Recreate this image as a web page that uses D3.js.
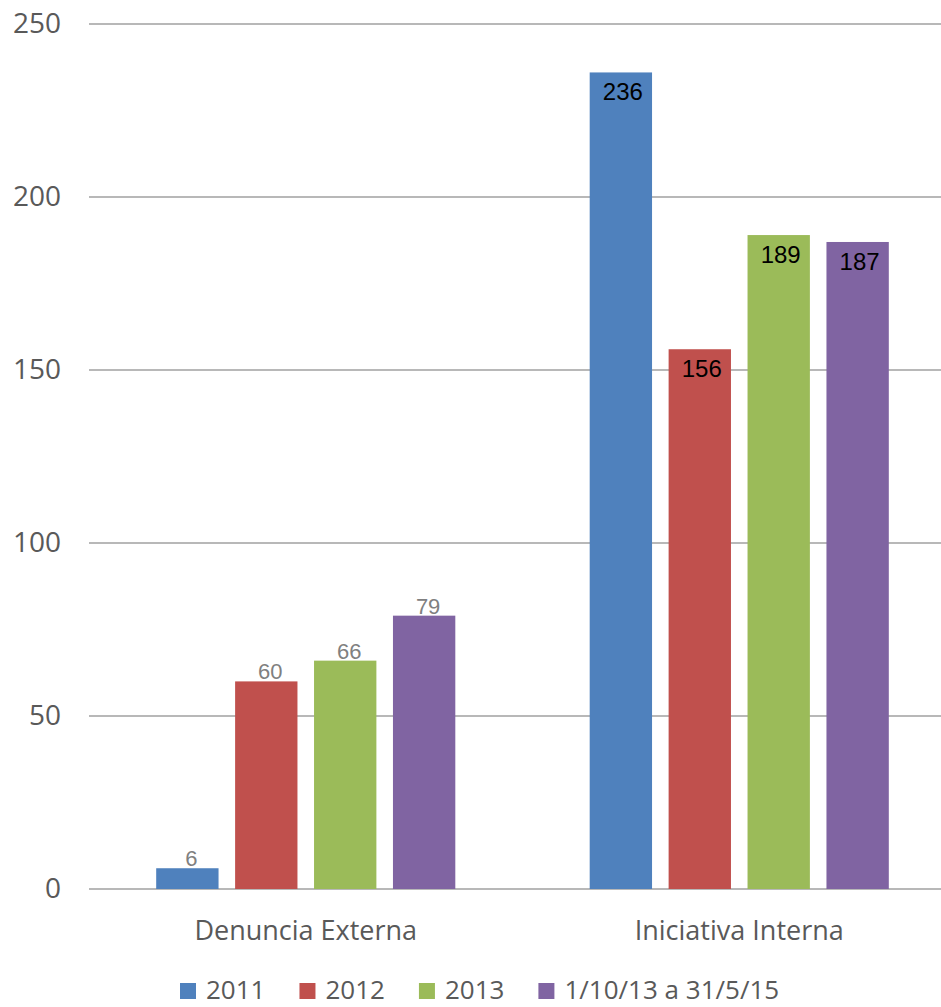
<!DOCTYPE html>
<html>
<head>
<meta charset="utf-8">
<script src="https://cdn.jsdelivr.net/npm/d3@7"></script>
<style>
  body { margin: 0; background: #fff; }
  svg { display: block; }
</style>
</head>
<body>
<div id="chart"></div>
<script>
const categories = ['Denuncia Externa', 'Iniciativa Interna']
const series = ['2011', '2012', '2013', '1/10/13 a 31/5/15']
const colors = ['#4F81BD', '#C0504D', '#9BBB59', '#8064A2']
// values per series, in category order
const v2011 = [6, 236]
const v2012 = [60, 156]
const v2013 = [66, 189]
const vPeriod = [79, 187]
const yTicks = [0, 50, 100, 150, 200, 250]

const values = [v2011, v2012, v2013, vPeriod]

const width = 941, height = 1007
const margin = { top: 24, left: 89, bottom: 118 }
const plotBottom = height - margin.bottom

const svg = d3.select('#chart').append('svg')
  .attr('width', width)
  .attr('height', height)

const y = d3.scaleLinear()
  .domain([0, 250])
  .range([plotBottom, margin.top])

const x0 = d3.scaleBand()
  .domain(categories)
  .range([margin.left, 956])
  .paddingInner(0.31)
  .paddingOuter(0.155)

const x1 = d3.scaleBand()
  .domain(series)
  .range([0, x0.bandwidth()])
  .paddingInner(0.21)
  .paddingOuter(0)

// gridlines
svg.append('g')
  .selectAll('line')
  .data(yTicks)
  .join('line')
  .attr('x1', margin.left)
  .attr('x2', width)
  .attr('y1', d => y(d))
  .attr('y2', d => y(d))
  .attr('stroke', '#b8b8b8')
  .attr('stroke-width', 2)

// y axis labels
const yAxis = svg.append('g')
  .attr('transform', `translate(61,0)`)
  .call(d3.axisLeft(y).tickValues(yTicks).tickSize(0).tickPadding(0))
yAxis.select('.domain').remove()
yAxis.selectAll('text')
  .attr('font-family', '"Open Sans", sans-serif')
  .attr('font-size', 28)
  .attr('fill', '#595959')

// bars
const groups = svg.append('g')
  .selectAll('g')
  .data(categories)
  .join('g')
  .attr('transform', d => `translate(${x0(d)},0)`)

const cells = groups.selectAll('g')
  .data((c, ci) => series.map((s, si) => ({ s, si, ci, v: values[si][ci] })))
  .join('g')

cells.append('rect')
  .attr('x', d => x1(d.s))
  .attr('width', x1.bandwidth())
  .attr('y', d => y(d.v))
  .attr('height', d => y(0) - y(d.v))
  .attr('fill', d => colors[d.si])

cells.append('text')
  .attr('x', d => x1(d.s) + x1.bandwidth() / 2 + (d.ci === 0 ? 4 : 2))
  .attr('y', d => d.ci === 0 ? y(d.v) - 2 : y(d.v) + 28)
  .attr('text-anchor', 'middle')
  .attr('font-family', '"Liberation Sans", Arial, sans-serif')
  .attr('font-size', d => d.ci === 0 ? 22 : 24)
  .attr('fill', d => d.ci === 0 ? '#808080' : '#000')
  .text(d => d.v)

// category labels
svg.append('g')
  .selectAll('text')
  .data(categories)
  .join('text')
  .attr('x', d => x0(d) + x0.bandwidth() / 2)
  .attr('y', 940)
  .attr('text-anchor', 'middle')
  .attr('font-family', '"Open Sans", sans-serif')
  .attr('font-size', 27)
  .attr('fill', '#595959')
  .text(d => d)

// legend
const legend = svg.append('g').attr('transform', 'translate(180,999)')
let lx = 0
series.forEach((s, i) => {
  const item = legend.append('g').attr('transform', `translate(${lx},0)`)
  item.append('rect')
    .attr('x', 0).attr('y', -16)
    .attr('width', 16).attr('height', 16)
    .attr('fill', colors[i])
  const t = item.append('text')
    .attr('x', 26)
    .attr('y', 0)
    .attr('font-family', '"Open Sans", sans-serif')
    .attr('font-size', 26)
    .attr('fill', '#595959')
    .text(s)
  lx += 26 + t.node().getComputedTextLength() + 34
})
</script>
</body>
</html>
